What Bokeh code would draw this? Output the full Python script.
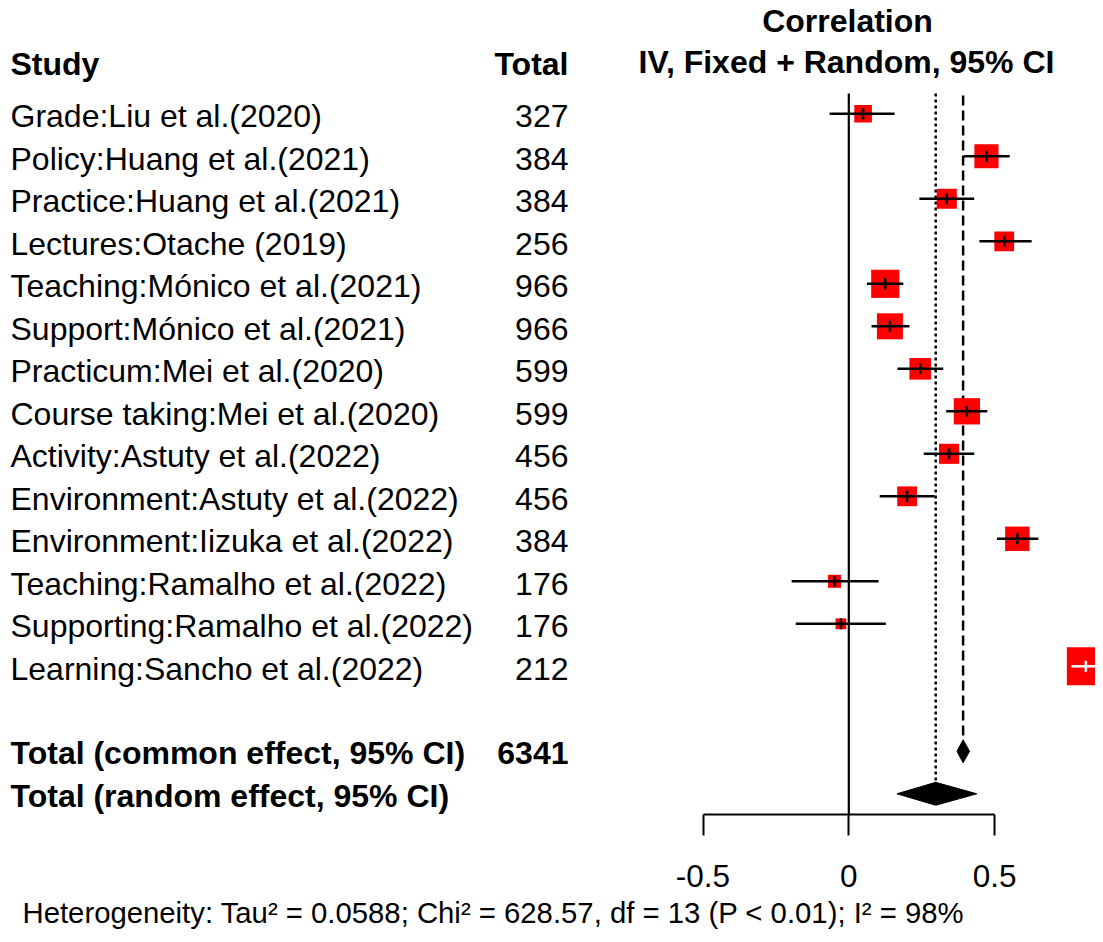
import numpy as np
from bokeh.plotting import figure
from bokeh.models import ColumnDataSource, Range1d, LinearAxis, FixedTicker, Title
from bokeh.core.properties import value
from bokeh.embed import file_html
from bokeh.resources import INLINE

# ---------------- data ----------------
studies = [
    "Grade:Liu et al.(2020)",
    "Policy:Huang et al.(2021)",
    "Practice:Huang et al.(2021)",
    "Lectures:Otache (2019)",
    "Teaching:Mónico et al.(2021)",
    "Support:Mónico et al.(2021)",
    "Practicum:Mei et al.(2020)",
    "Course taking:Mei et al.(2020)",
    "Activity:Astuty et al.(2022)",
    "Environment:Astuty et al.(2022)",
    "Environment:Iizuka et al.(2022)",
    "Teaching:Ramalho et al.(2022)",
    "Supporting:Ramalho et al.(2022)",
    "Learning:Sancho et al.(2022)",
]
totals = [327, 384, 384, 256, 966, 966, 599, 599, 456, 456, 384, 176, 176, 212]
cor = [0.049, 0.472, 0.336, 0.533, 0.125, 0.141, 0.245, 0.405, 0.344, 0.200, 0.578, -0.049, -0.027, 0.813]
lower = [-0.066, 0.395, 0.242, 0.448, 0.062, 0.078, 0.167, 0.334, 0.257, 0.106, 0.508, -0.196, -0.182, 0.763]
upper = [0.157, 0.552, 0.430, 0.627, 0.187, 0.208, 0.324, 0.475, 0.430, 0.294, 0.650, 0.102, 0.127, 0.858]
weights = [5.7, 7.8, 6.5, 6.4, 9.1, 8.4, 7.0, 8.5, 6.5, 6.4, 7.9, 4.2, 3.5, 12.3]
total_n = 6341
common = [0.392, 0.371, 0.414]   # estimate, lower, upper
random_eff = [0.298, 0.165, 0.439]
ticks = [-0.5, 0, 0.5]
tick_labels = ["-0.5", "0", "0.5"]
heterogeneity = "Heterogeneity: Tau² = 0.0588; Chi² = 628.57, df = 13 (P < 0.01); I² = 98%"

# ---------------- layout constants ----------------
FONT = value("Liberation Sans")
X0, UNIT = 848.3, 291.6       # px of x=0, px per unit
ROW0, ROWH = 113.3, 42.5      # px of first row, px per row
W, H = 1095, 934
FRAME_BOTTOM = 814
TFIX = 12                     # renderer baseline correction (px)


def px2x(px):
    return (px - X0) / UNIT


def px2y(py):
    return (py - ROW0) / ROWH


def base(py):
    return px2y(py - TFIX)


p = figure(width=W, height=H, output_backend="svg", toolbar_location=None,
           x_range=Range1d(px2x(0), px2x(W)),
           y_range=Range1d(px2y(FRAME_BOTTOM), px2y(0)),
           x_axis_location=None, y_axis_location=None,
           min_border_left=0, min_border_right=0, min_border_top=0,
           min_border_bottom=H - FRAME_BOTTOM)
p.grid.visible = False
p.outline_line_color = None
p.background_fill_color = "white"
p.border_fill_color = "white"

n = len(studies)
rows = list(range(n))
row_common = n + 1
row_random = n + 2

box_px = [w * 3.094 for w in weights]
half = [b / 2 / UNIT for b in box_px]
ci_col = ["white" if (lo >= c - h and hi <= c + h) else "black"
          for c, lo, hi, h in zip(cor, lower, upper, half)]

src = ColumnDataSource(dict(study=studies, total=[str(t) for t in totals], cor=cor,
                            lower=lower, upper=upper, size=box_px, col=ci_col,
                            row=rows, base=[r + (14.5 - TFIX) / ROWH for r in rows]))

# reference lines
top_line = px2y(93)
p.segment(x0=[0], y0=[top_line], x1=[0], y1=[px2y(FRAME_BOTTOM)], line_color="black", line_width=2.2)
DH = 0.27
p.segment(x0=[random_eff[0]], y0=[top_line], x1=[random_eff[0]], y1=[row_random - DH],
          line_color="black", line_width=2.5, line_dash="3 3")
p.segment(x0=[common[0]], y0=[px2y(95)], x1=[common[0]], y1=[row_common - DH],
          line_color="black", line_width=2.5, line_dash="10 5")

# boxes
p.rect(x="cor", y="row", width="size", height="size", width_units="screen",
       height_units="screen", source=src, fill_color="red", line_color=None)
# CIs
p.segment(x0="lower", y0="row", x1="upper", y1="row", line_color="col", line_width=2.5, source=src)
p.scatter(x="cor", y="row", marker="dash", angle=np.pi / 2, size=11, line_color="col",
          line_width=2.5, source=src)

# diamonds
p.patches(xs=[[common[1], common[0], common[2], common[0]],
              [random_eff[1], random_eff[0], random_eff[2], random_eff[0]]],
          ys=[[row_common, row_common - DH, row_common, row_common + DH],
              [row_random, row_random - DH, row_random, row_random + DH]],
          fill_color="black", line_color="black", line_width=1)

# table text
FS = "32px"
p.text(x=px2x(10), y="base", text="study", source=src, text_font=FONT, text_font_size=FS,
       text_baseline="alphabetic", text_align="left", text_color="black")
p.text(x=px2x(568), y="base", text="total", source=src, text_font=FONT, text_font_size=FS,
       text_baseline="alphabetic", text_align="right", text_color="black")

p.text(x=[px2x(10), px2x(10)], y=[base(764), base(807)],
       text=["Total (common effect, 95% CI)", "Total (random effect, 95% CI)"],
       text_font=FONT, text_font_size=FS, text_font_style="bold",
       text_baseline="alphabetic", text_align="left", text_color="black")
p.text(x=[px2x(568)], y=[base(764)], text=[str(total_n)], text_font=FONT, text_font_size=FS,
       text_font_style="bold", text_baseline="alphabetic", text_align="right", text_color="black")

# headers
p.text(x=[px2x(10)], y=[base(75)], text=["Study"], text_font=FONT, text_font_size=FS,
       text_font_style="bold", text_baseline="alphabetic", text_align="left")
p.text(x=[px2x(568)], y=[base(75)], text=["Total"], text_font=FONT, text_font_size=FS,
       text_font_style="bold", text_baseline="alphabetic", text_align="right")
p.text(x=[px2x(847), px2x(846)], y=[base(32), base(73)],
       text=["Correlation", "IV, Fixed + Random, 95% CI"], text_font=FONT, text_font_size=FS,
       text_font_style="bold", text_baseline="alphabetic", text_align="center")

# axis
ax = LinearAxis(ticker=FixedTicker(ticks=ticks), bounds=(ticks[0], ticks[-1]))
ax.major_label_overrides = {t: l for t, l in zip(ticks, tick_labels)}
ax.axis_line_color = "black"
ax.axis_line_width = 2
ax.major_tick_line_color = "black"
ax.major_tick_line_width = 2
ax.major_tick_out = 21
ax.major_tick_in = 0
ax.minor_tick_out = 0
ax.minor_tick_in = 0
ax.major_label_standoff = 29
ax.major_label_text_font = "Liberation Sans"
ax.major_label_text_font_size = "31.5px"
ax.major_label_text_color = "black"
p.add_layout(ax, "below")

t = Title(text=heterogeneity, align="left", offset=22, text_font="Liberation Sans",
          text_font_size="29.3px", text_font_style="normal", text_color="black", standoff=8)
p.add_layout(t, "below")

open("out.html", "w").write(file_html(p, INLINE))
